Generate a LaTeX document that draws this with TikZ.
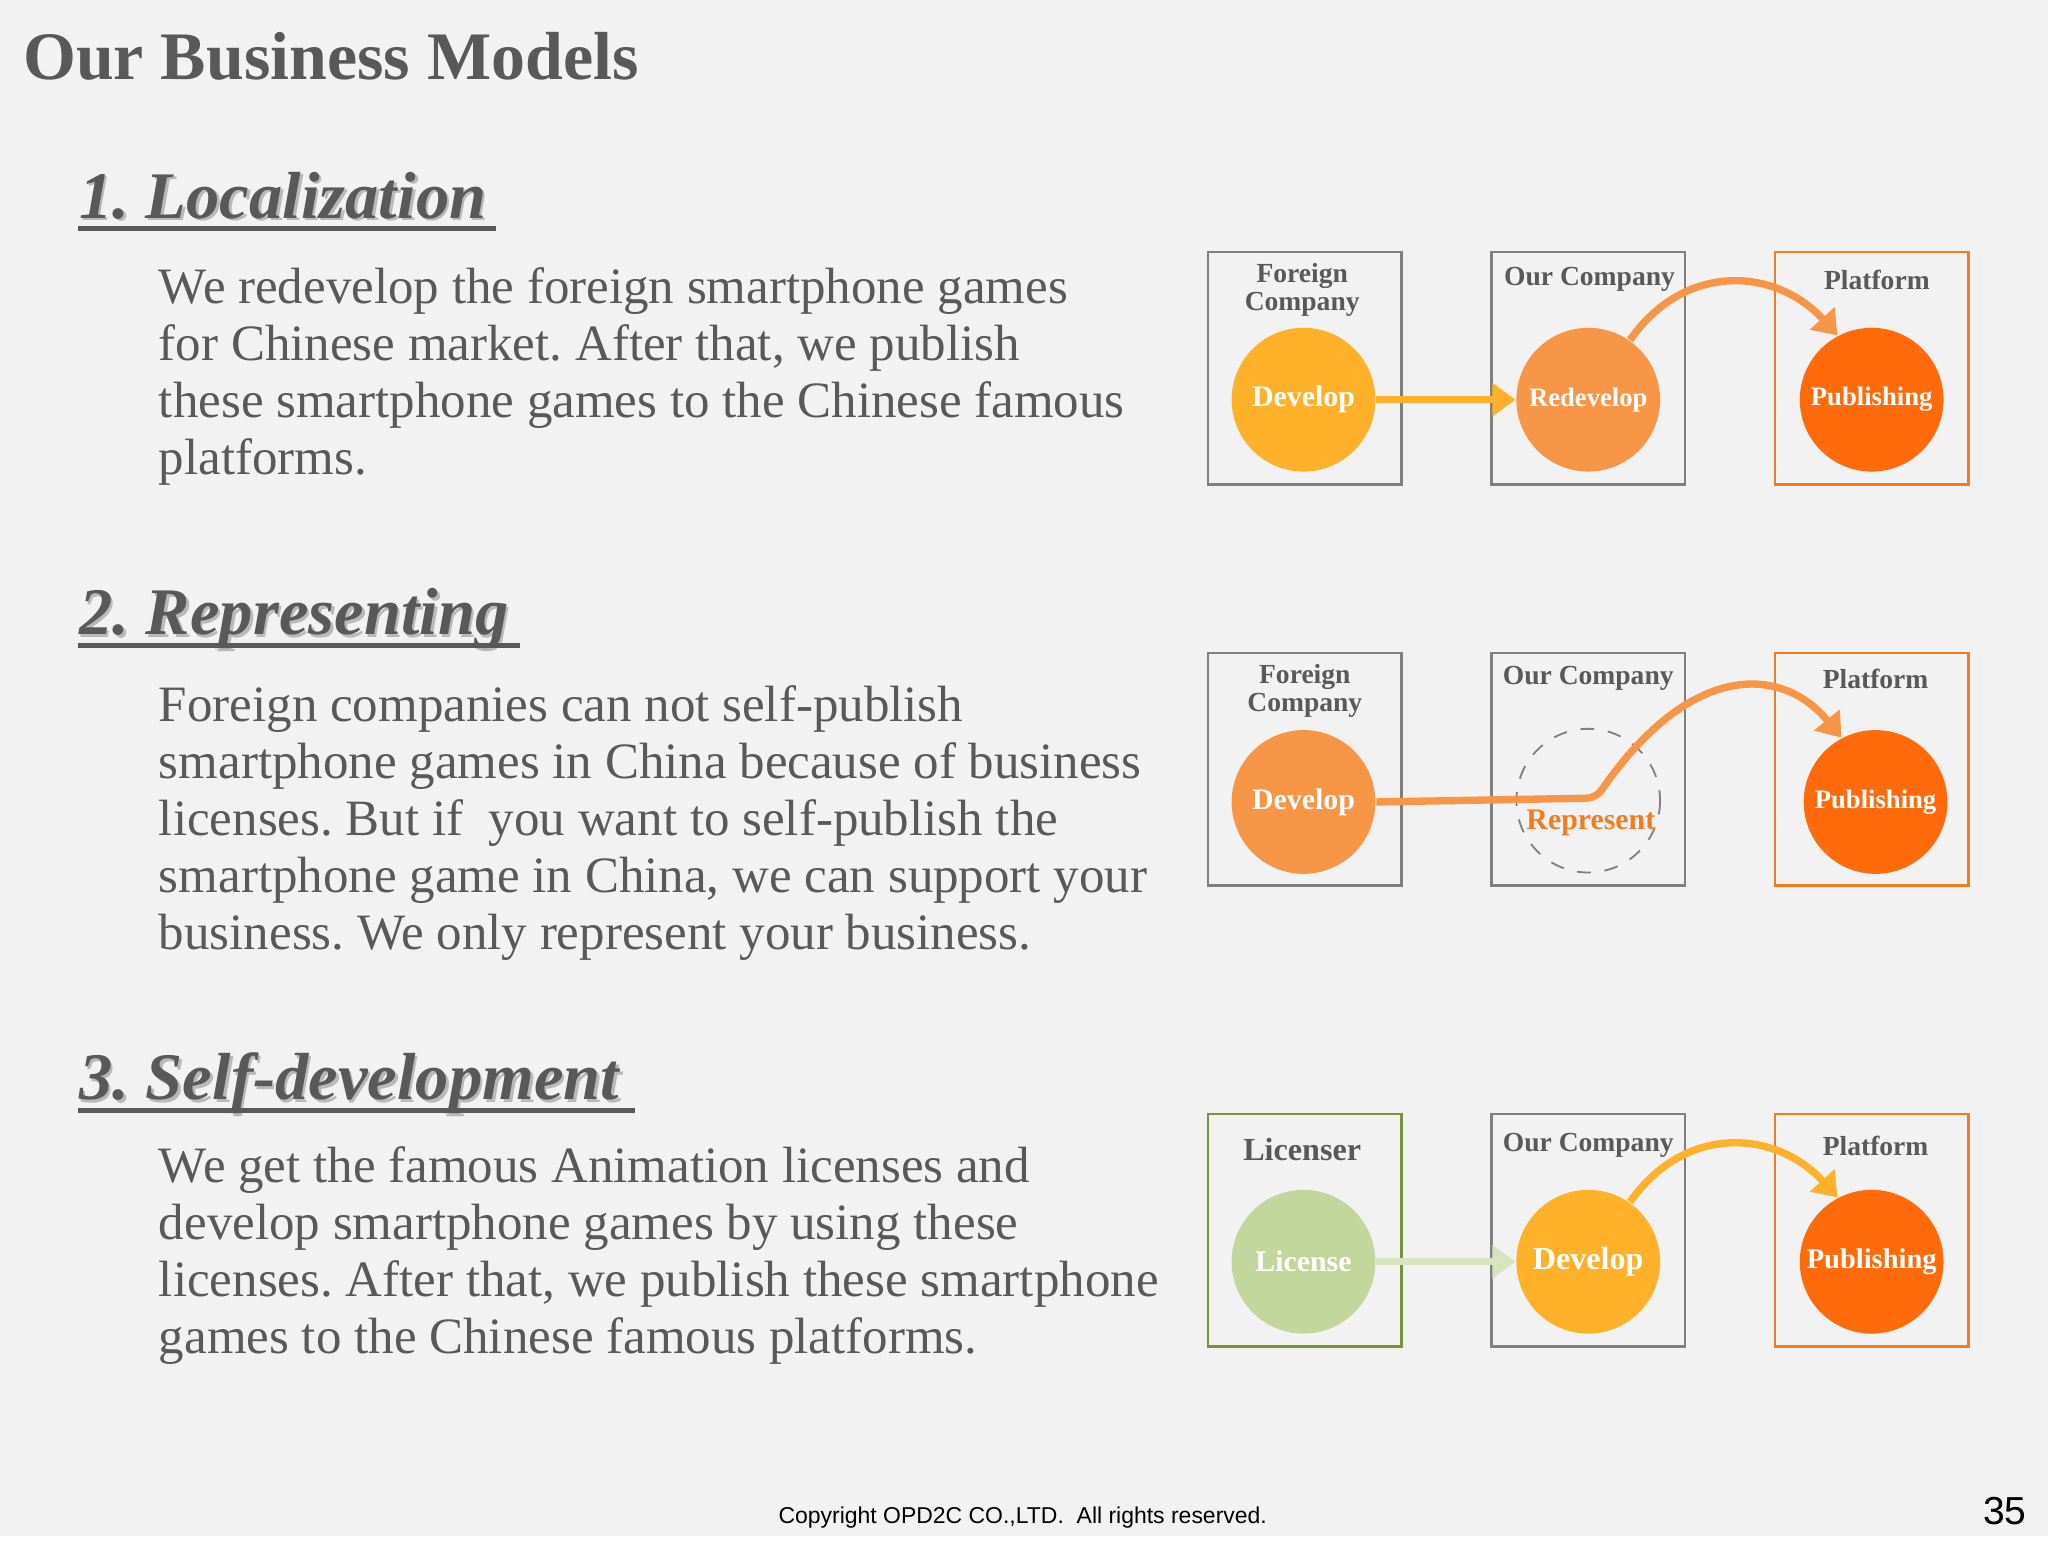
\documentclass[tikz,border=0pt]{standalone}
\usepackage{fontspec}
\setmainfont{Liberation Serif}
\newfontfamily\sansf{Liberation Sans}
\usetikzlibrary{arrows.meta}
\frenchspacing
\definecolor{bg}{HTML}{F2F2F2}
\definecolor{txt}{HTML}{595959}
\definecolor{yel}{HTML}{FFB12A}
\definecolor{ora}{HTML}{F79646}
\definecolor{red}{HTML}{FF6A0A}
\definecolor{obox}{HTML}{F07D22}
\definecolor{grn}{HTML}{C3D69B}
\definecolor{gbox}{HTML}{77933C}
\definecolor{lgrn}{HTML}{D7E4BD}
\tikzset{
 box/.style={draw=#1,line width=0.6pt,fill=bg,minimum width=1.48cm,minimum height=1.78cm,inner sep=0},
 circ/.style={circle,fill=#1,minimum size=1.1cm,inner sep=0,text=white,font=\bfseries\fontsize{6.5}{7}\selectfont},
 lab/.style={text=txt,font=\bfseries\fontsize{6}{7}\selectfont,align=center},
 arr/.style={draw=#1,line width=1.6pt,-{Triangle[length=5pt,width=7pt]}},
 head/.style={font=\bfseries\itshape\fontsize{14.5}{16}\selectfont,anchor=base west},
 body/.style={text=txt,font=\fontsize{11.1}{12.45}\selectfont,align=left,anchor=north west,inner sep=0}
}
\begin{document}
\frenchspacing
\begin{tikzpicture}[x=0.01cm,y=-0.01cm]
\fill[bg] (0,0) rectangle (1568,1176);
\node[anchor=base west,inner sep=0,text=txt,font=\bfseries\fontsize{14.8}{16}\selectfont] (title) at (17,61) {Our Business Models};
% headings
\foreach \n/\t/\y/\w in {h1/1. Localization/167/380, h2/2. Representing/486/398, h3/3. Self-development/842/486}{
 \node[head,inner sep=0,text=gray!55] at (62,\y+2) {\t};
 \node[head,inner sep=0,text=txt] (\n) at (60,\y) {\t};
 \draw[txt,line width=1pt] (60,\y+8) -- (\w,\y+8);
}
\node[body] (b1) at (121,204) {We redevelop the foreign smartphone games\\for Chinese market. After that, we publish\\these smartphone games to the Chinese famous\\platforms.};
\node[body] (b2) at (121,524) {Foreign companies can not self-publish\\smartphone games in China because of business\\licenses. But if~ you want to self-publish the\\smartphone game in China, we can support your\\business. We only represent your business.};
\node[body] (b3) at (121,877) {We get the famous Animation licenses and\\develop smartphone games by using these\\licenses. After that, we publish these smartphone\\games to the Chinese famous platforms.};
% row 1
\node[box=gray] (f1) at (999,282) {};
\node[box=gray] (o1) at (1216,282) {};
\node[box=obox] (p1) at (1433,282) {};
\node[lab] at (997,222) {Foreign\\[-1pt]Company};
\node[lab] at (1217,214) {Our Company};
\node[lab] at (1437,214) {Platform};
\node[circ=yel] (c11) at (998,306) {Develop};
\node[circ=ora,font=\bfseries\fontsize{5.8}{7}\selectfont] (c12) at (1216,306) {Redevelop};
\node[circ=red,font=\bfseries\fontsize{5.8}{7}\selectfont] (c13) at (1433,306) {Publishing};
\draw[arr=yel] (c11) -- (c12);
\draw[arr=ora] (c12.55) .. controls (1290,200) and (1360,205) .. (c13.118);
% row 2
\node[box=gray] (f2) at (999,589) {};
\node[box=gray] (o2) at (1216,589) {};
\node[box=obox] (p2) at (1433,589) {};
\node[lab] at (999,529) {Foreign\\[-1pt]Company};
\node[lab] at (1216,519) {Our Company};
\node[lab] at (1436,520) {Platform};
\node[circ=ora] (c21) at (998,614) {Develop};
\draw[gray,dashed,line width=0.4pt] (1216,613) circle (55);
\node[text=obox,font=\bfseries\fontsize{6.5}{7}\selectfont] (rep) at (1218,630) {Represent};
\node[circ=red,font=\bfseries\fontsize{5.8}{7}\selectfont] (c23) at (1436,614) {Publishing};
\coordinate (k2) at (1222,611);
\draw[arr=ora,rounded corners=2pt] (c21.east) -- (k2) .. controls (1295,505) and (1365,510) .. (c23.118);
% row 3
\node[box=gbox] (f3) at (999,942) {};
\node[box=gray] (o3) at (1216,942) {};
\node[box=obox] (p3) at (1433,942) {};
\node[lab,font=\bfseries\fontsize{7}{8}\selectfont] at (997,880) {Licenser};
\node[lab] at (1216,877) {Our Company};
\node[lab] at (1436,877) {Platform};
\node[circ=grn] (c31) at (998,966) {License};
\node[circ=yel,font=\bfseries\fontsize{7}{8}\selectfont] (c32) at (1216,966) {Develop};
\node[circ=red,font=\bfseries\fontsize{6.2}{7}\selectfont] (c33) at (1433,966) {Publishing};
\draw[arr=lgrn] (c31) -- (c32);
\draw[arr=yel] (c32.55) .. controls (1290,860) and (1360,865) .. (c33.118);
% footer
\node[font=\sansf\fontsize{5}{6}\selectfont,text=black] (copy) at (783,1162) {Copyright OPD2C CO.,LTD.~ All rights reserved.};
\node[font=\sansf\fontsize{8.5}{10}\selectfont,text=black] (pg) at (1535,1157) {35};
\end{tikzpicture}
\end{document}
